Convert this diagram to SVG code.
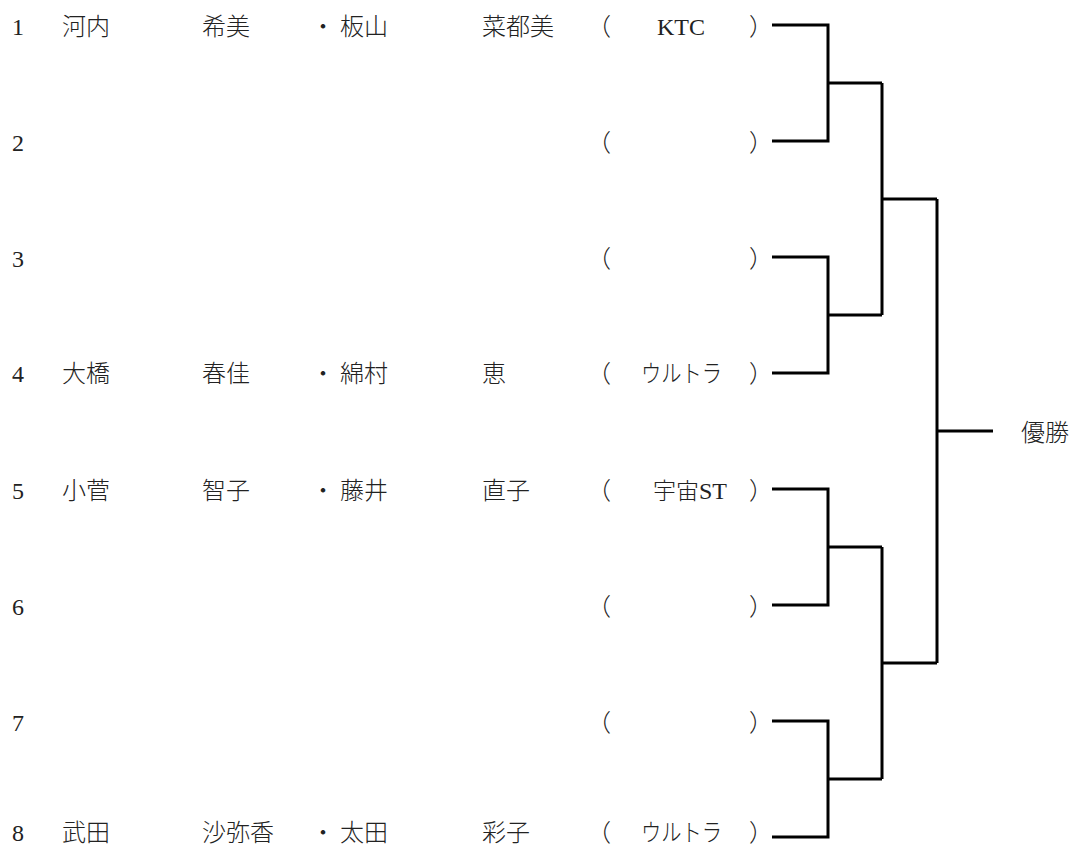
<svg xmlns="http://www.w3.org/2000/svg" width="1073" height="850" viewBox="0 0 1073 850">
<style>
text{font-family:"Liberation Serif","Noto Sans CJK JP",serif;font-size:24px;fill:#222}
.j{font-family:"Noto Sans CJK JP",serif;font-weight:300}
.c{fill:none;stroke:#000;stroke-width:3;stroke-linejoin:miter;stroke-linecap:butt}
</style>
<rect width="1073" height="850" fill="#fff"/>
<g id="row1" transform="translate(0,35)">
<text x="12" y="0">1</text><text class="j" x="62" y="0">河内</text><text class="j" x="202" y="0">希美</text><text class="j" x="311" y="0">・</text><text class="j" x="340" y="0">板山</text><text class="j" x="482" y="0">菜都美</text><text class="j" x="587" y="0">（</text><text x="657" y="0">KTC</text><text class="j" x="749" y="0">）</text>
</g>
<g id="row2" transform="translate(0,151)">
<text x="12" y="0">2</text><text class="j" x="587" y="0">（</text><text class="j" x="749" y="0">）</text>
</g>
<g id="row3" transform="translate(0,267)">
<text x="12" y="0">3</text><text class="j" x="587" y="0">（</text><text class="j" x="749" y="0">）</text>
</g>
<g id="row4" transform="translate(0,382)">
<text x="12" y="0">4</text><text class="j" x="62" y="0">大橋</text><text class="j" x="202" y="0">春佳</text><text class="j" x="311" y="0">・</text><text class="j" x="340" y="0">綿村</text><text class="j" x="482" y="0">恵</text><text class="j" x="587" y="0">（</text><text class="j" x="641" y="0" textLength="81" lengthAdjust="spacingAndGlyphs">ウルトラ</text><text class="j" x="749" y="0">）</text>
</g>
<g id="row5" transform="translate(0,499)">
<text x="12" y="0">5</text><text class="j" x="62" y="0">小菅</text><text class="j" x="202" y="0">智子</text><text class="j" x="311" y="0">・</text><text class="j" x="340" y="0">藤井</text><text class="j" x="482" y="0">直子</text><text class="j" x="587" y="0">（</text><text class="j" x="653" y="0" style="font-size:23px">宇宙</text><text x="699" y="0">ST</text><text class="j" x="749" y="0">）</text>
</g>
<g id="row6" transform="translate(0,615)">
<text x="12" y="0">6</text><text class="j" x="587" y="0">（</text><text class="j" x="749" y="0">）</text>
</g>
<g id="row7" transform="translate(0,731)">
<text x="12" y="0">7</text><text class="j" x="587" y="0">（</text><text class="j" x="749" y="0">）</text>
</g>
<g id="row8" transform="translate(0,841)">
<text x="12" y="0">8</text><text class="j" x="62" y="0">武田</text><text class="j" x="202" y="0">沙弥香</text><text class="j" x="311" y="0">・</text><text class="j" x="340" y="0">太田</text><text class="j" x="482" y="0">彩子</text><text class="j" x="587" y="0">（</text><text class="j" x="641" y="0" textLength="81" lengthAdjust="spacingAndGlyphs">ウルトラ</text><text class="j" x="749" y="0">）</text>
</g>
<g id="winner">
<text class="j" x="1021" y="441">優勝</text>
</g>
<g id="connectors" class="c">
<path d="M772 25H828V141H772M828 83H882"/>
<path d="M772 257H828V373H772M828 315H882"/>
<path d="M882 83V315M882 199H937"/>
<path d="M772 489H828V605H772M828 547H882"/>
<path d="M772 721H828V837H772M828 779H882"/>
<path d="M882 547V779M882 663H937"/>
<path d="M937 199V663M937 431H993"/>
</g>
</svg>
